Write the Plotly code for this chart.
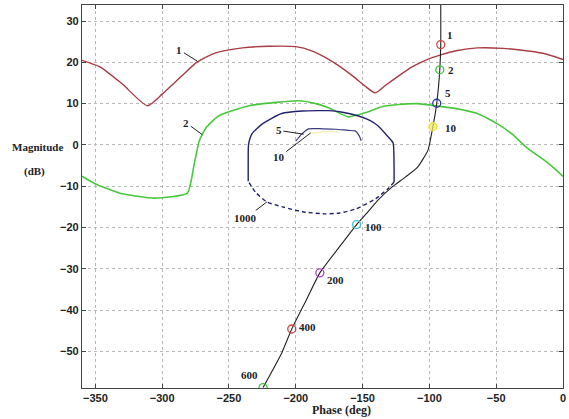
import plotly.graph_objects as go

# Curve 1 (red)
c1_phase = [-360, -346.6, -330, -311, -300, -285, -273.7, -260, -240, -220, -200, -188, -178, -168,
            -157, -148, -140.6, -133, -123.5, -113, -103, -91.5, -80, -64, -45, -32, -15, 0]
c1_mag = [20.5, 18.9, 14.8, 9.5, 12.3, 16.8, 20.1, 22.3, 23.5, 23.9, 23.8, 22.8, 21.2, 19.2,
          16.6, 14.2, 12.6, 14.4, 16.6, 18.9, 20.5, 21.8, 22.8, 23.5, 23.4, 23.0, 22.2, 20.7]

# Curve 2 (green)
c2_phase = [-360, -350.3, -331.7, -305.7, -281.2, -276, -272.2, -267, -257.4, -235, -215, -198,
            -185, -175.5, -160.7, -148, -135, -123, -109, -96, -80, -64, -49, -38, -27, -12, 0]
c2_mag = [-7.6, -9.4, -11.7, -12.9, -11.7, -4.6, 1.0, 4.2, 7.1, 9.5, 10.3, 10.7,
          10.0, 9.0, 6.8, 7.8, 9.3, 9.8, 10.0, 9.5, 8.8, 7.6, 5.1, 2.6, -0.7, -4.2, -7.6]

# Closed contour (blue): solid and dashed parts
cs_phase = [-235.6, -235.6, -235.3, -232.8, -225, -210.5, -195, -183, -175.5, -165, -153, -145,
            -138.3, -131, -127.2, -126.5, -126.4]
cs_mag = [-8.8, -4.0, 0.2, 2.7, 5.1, 7.6, 8.2, 8.3, 8.3, 7.9, 7.0, 6.0,
          4.6, 2.0, 0.5, -4.0, -9.0]
cd_phase = [-126.4, -131, -140, -155, -167, -178, -195, -210, -221.6, -230, -235.6]
cd_mag = [-9.0, -10.6, -13.0, -15.5, -16.5, -16.7, -16.2, -15.0, -13.8, -11.5, -8.8]

# Inner small curve (blue) and faint yellow curve
ci_phase = [-200, -196, -190.5, -180, -170, -160.7, -155.5, -152.5, -151]
ci_mag = [0.9, 2.5, 3.9, 3.9, 3.8, 3.5, 3.4, 2.2, 1.0]
cy_phase = [-190, -182, -175, -168]
cy_mag = [2.8, 3.1, 3.3, 3.1]

# Frequency-response locus (black)
cb_phase = [-91.5, -91.5, -92.2, -93.2, -94.5, -95.8, -97.4, -101, -108.6, -118, -128.7, -138.3,
            -146, -154.5, -168, -182, -192, -203, -210.5, -224.5]
cb_mag = [34, 24.3, 18.2, 14.0, 10.1, 7.2, 4.4, -1.2, -5.3, -7.8, -10.4, -13.3,
          -16.2, -19.3, -25.0, -31.0, -37.5, -44.6, -50.4, -58.8]

# Frequency markers on the locus
fm_labels = ["1", "2", "5", "10", "100", "200", "400", "600"]
fm_phase = [-91.5, -92.2, -94.5, -97.4, -154.5, -182, -203, -224.5]
fm_mag = [24.3, 18.2, 10.1, 4.4, -19.3, -31.0, -44.6, -58.8]
fm_colors = ["#d04848", "#44c044", "#2a3c9c", "#e8e040", "#40c0d8", "#b040c8", "#c84040", "#40c040"]
fm_text_phase = [-88.5, -87.8, -90, -90, -149.5, -178.5, -199.3, -235]
fm_text_mag = [26.7, 18.2, 12.6, 4.1, -20.0, -32.8, -44.2, -55.7]

x_ticks = [-350, -300, -250, -200, -150, -100, -50, 0]
y_ticks = [30, 20, 10, 0, -10, -20, -30, -40, -50]

serif = "Liberation Serif"

fig = go.Figure()
fig.add_trace(go.Scatter(x=c1_phase, y=c1_mag, mode="lines", line=dict(color="#a83c44", width=1.4, shape="spline", smoothing=0.6)))
fig.add_trace(go.Scatter(x=c2_phase, y=c2_mag, mode="lines", line=dict(color="#48c83c", width=1.6, shape="spline", smoothing=0.5)))
fig.add_trace(go.Scatter(x=cs_phase, y=cs_mag, mode="lines", line=dict(color="#22226e", width=1.4, shape="spline", smoothing=0.6)))
fig.add_trace(go.Scatter(x=cd_phase, y=cd_mag, mode="lines", line=dict(color="#22226e", width=1.4, dash="4px,3px", shape="spline", smoothing=0.6)))
fig.add_trace(go.Scatter(x=ci_phase, y=ci_mag, mode="lines", line=dict(color="#3a3a80", width=1.2, shape="spline", smoothing=0.5)))
fig.add_trace(go.Scatter(x=cy_phase, y=cy_mag, mode="lines", line=dict(color="rgba(230,225,120,0.6)", width=1.2)))
fig.add_trace(go.Scatter(x=cb_phase, y=cb_mag, mode="lines", line=dict(color="#222222", width=1.1, shape="spline", smoothing=0.5)))
for i, lab in enumerate(fm_labels):
    fill = "rgba(240,235,90,0.7)" if lab == "10" else "rgba(0,0,0,0)"
    fig.add_trace(go.Scatter(x=[fm_phase[i]], y=[fm_mag[i]], mode="markers",
                             marker=dict(symbol="circle", size=8, color=fill,
                                         line=dict(color=fm_colors[i], width=1.3))))
    fig.add_annotation(x=fm_text_phase[i], y=fm_text_mag[i], text=lab, showarrow=False,
                       xanchor="center" if lab == "600" else "left", yanchor="middle",
                       font=dict(family=serif, size=11, color="#222", weight="bold"))

# Curve labels with leader lines
leader = [("1", -287.1, 23.0, -273.7, 20.3),
          ("2", -281.9, 5.3, -270.0, 2.5),
          ("5", -212.7, 3.5, -194.1, 2.6),
          ("10", -212.7, -3.0, -188.9, 2.9),
          ("1000", -237.3, -17.7, -221.6, -13.8)]
for lab, tx, ty, hx, hy in leader:
    fig.add_annotation(x=hx, y=hy, ax=tx, ay=ty, axref="x", ayref="y", xref="x", yref="y",
                       text=lab, showarrow=True, arrowhead=0, arrowwidth=1, arrowcolor="#222",
                       font=dict(family=serif, size=11, color="#222", weight="bold"))

fig.add_annotation(x=-0.0351, y=0.629, xref="paper", yref="paper", text="Magnitude", showarrow=False,
                   xanchor="right", font=dict(family=serif, size=11, color="#222", weight="bold"))
fig.add_annotation(x=-0.0723, y=0.564, xref="paper", yref="paper", text="(dB)", showarrow=False,
                   xanchor="right", font=dict(family=serif, size=11, color="#222", weight="bold"))
fig.add_annotation(x=0.539, y=-0.057, xref="paper", yref="paper", text="Phase (deg)", showarrow=False,
                   yanchor="middle", font=dict(family=serif, size=12, color="#222", weight="bold"))

axis_common = dict(showline=True, linecolor="#444", linewidth=1.2, mirror="ticks", ticks="inside",
                   ticklen=4, tickcolor="#444", showgrid=True, gridcolor="#b8b8b8", griddash="dot",
                   gridwidth=1, zeroline=False, ticklabeloverflow="allow",
                   tickfont=dict(family="Liberation Sans", size=11, color="#222", weight="bold"))
fig.update_xaxes(range=[-360, 0], tickvals=x_ticks, **axis_common)
fig.update_yaxes(range=[-58.9, 33.9], tickvals=y_ticks, **axis_common)
fig.update_layout(width=569, height=419, margin=dict(l=82, r=3, t=5, b=31),
                  plot_bgcolor="white", paper_bgcolor="white", showlegend=False)
fig.write_html("out.html")
